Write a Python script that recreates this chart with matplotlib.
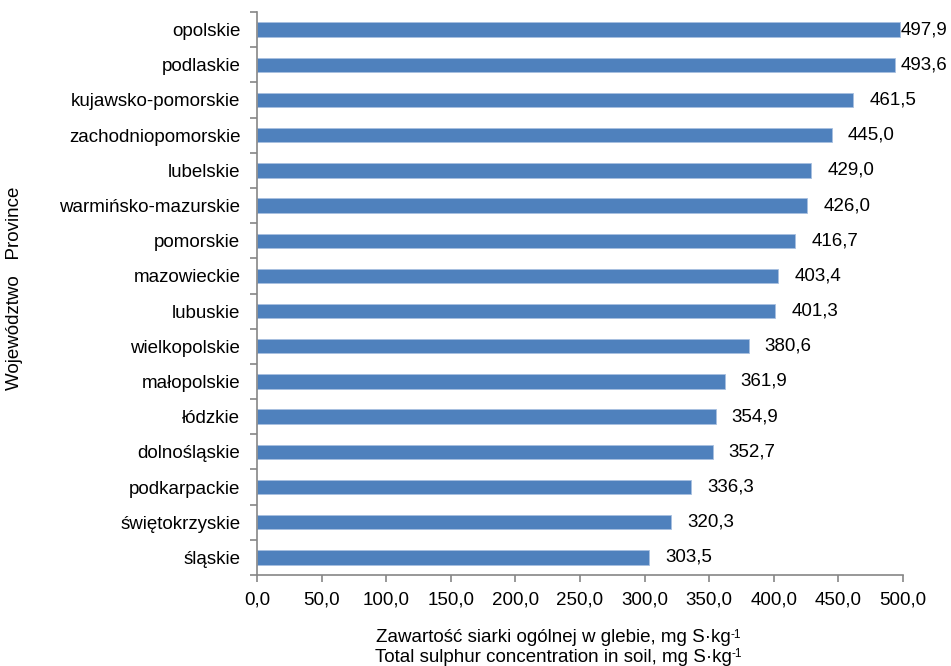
import numpy as np
import matplotlib.pyplot as plt
from matplotlib.ticker import FixedLocator

plt.rcParams['font.family'] = ['Liberation Sans', 'DejaVu Sans']

provinces = ['opolskie', 'podlaskie', 'kujawsko-pomorskie', 'zachodniopomorskie',
             'lubelskie', 'warmińsko-mazurskie', 'pomorskie', 'mazowieckie',
             'lubuskie', 'wielkopolskie', 'małopolskie', 'łódzkie',
             'dolnośląskie', 'podkarpackie', 'świętokrzyskie', 'śląskie']
sulphur = [497.9, 493.6, 461.5, 445.0, 429.0, 426.0, 416.7, 403.4,
           401.3, 380.6, 361.9, 354.9, 352.7, 336.3, 320.3, 303.5]

FS = 13.5
W, H = 951, 666
fig = plt.figure(figsize=(W / 100, H / 100), dpi=100)
ax = fig.add_axes([257 / W, 1 - 575 / H, (903 - 257) / W, (575 - 12) / H])

n = len(provinces)
ypos = np.arange(n)[::-1]
ax.barh(ypos, sulphur, height=0.41, color='#4F81BD', edgecolor='#a8c0e0', linewidth=0.6)

# value labels, pushed left when they would run past the figure edge
for y, v in zip(ypos, sulphur):
    x = min(v + 12.4, 498.0)
    ax.text(x, y, f'{v:.1f}'.replace('.', ','), va='center', ha='left',
            fontsize=FS, color='black', clip_on=False)

ax.set_xlim(0, 500)
ax.set_ylim(-0.5, n - 0.5)
xt = np.arange(0, 501, 50)
ax.set_xticks(xt)
ax.set_xticklabels([f'{t:.1f}'.replace('.', ',') for t in xt], fontsize=FS)
ax.set_yticks(ypos)
ax.set_yticklabels(provinces, fontsize=FS)
ax.tick_params(axis='y', which='major', length=0, pad=12)
ax.yaxis.set_minor_locator(FixedLocator(np.arange(-0.5, n, 1.0)))
ax.tick_params(axis='y', which='minor', length=5, color='#868686', width=1.2)
ax.tick_params(axis='x', length=5, color='#868686', width=1.2, pad=7)

for s in ['top', 'right']:
    ax.spines[s].set_visible(False)
for s in ['left', 'bottom']:
    ax.spines[s].set_color('#868686')
    ax.spines[s].set_linewidth(1.2)

# two-line axis title with small raised "-1"
for line, yc in [('Zawartość siarki ogólnej w glebie, mg S·kg', 638),
                 ('Total sulphur concentration in soil, mg S·kg', 657)]:
    t = fig.text(553 / W, 1 - yc / H, line, ha='center', va='center', fontsize=FS)
    ax.annotate('-1', xy=(1.0, 1.02), xycoords=t, va='top', ha='left', fontsize=8.5)

fig.text(15 / W, 1 - 288 / H, 'Województwo   Province', rotation=90,
         ha='center', va='center', fontsize=FS)

fig.savefig('out.png', dpi=100, facecolor='white')
